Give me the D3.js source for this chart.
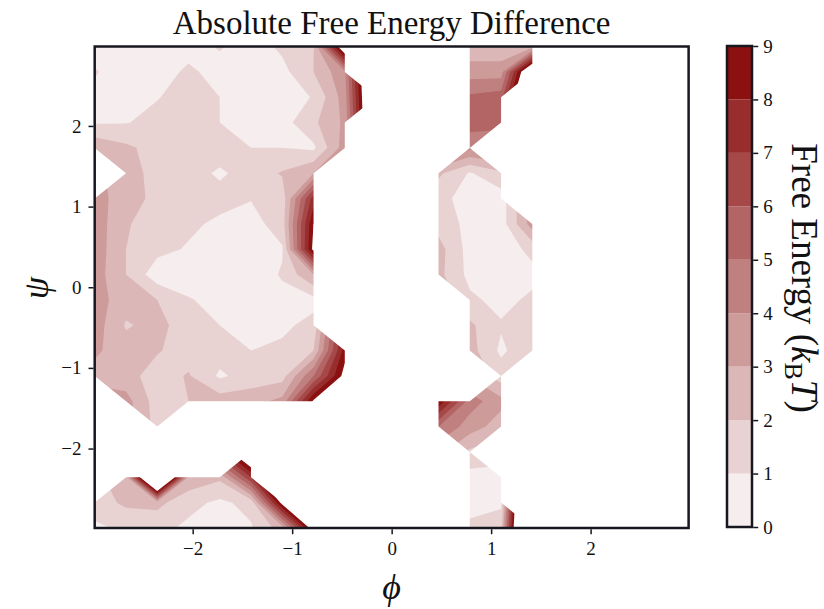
<!DOCTYPE html>
<html>
<head>
<meta charset="utf-8">
<script src="https://cdn.jsdelivr.net/npm/d3@7"></script>
<style>
  body { margin: 0; background: #fff; }
  text { font-family: "Liberation Serif", "DejaVu Serif", serif; fill: #111; }
</style>
</head>
<body>
<svg id="chart" width="824" height="609"></svg>
<script>
// Bin centres of the 20x20 histogram (radians)
const phi = [-2.985, -2.670, -2.356, -2.042, -1.728, -1.414, -1.100, -0.785, -0.471, -0.157,
              0.157,  0.471,  0.785,  1.100,  1.414,  1.728,  2.042,  2.356,  2.670,  2.985];
// psi rows listed from top (high psi) to bottom
const psi = [2.985, 2.670, 2.356, 2.042, 1.728, 1.414, 1.100, 0.785, 0.471, 0.157,
            -0.157, -0.471, -0.785, -1.100, -1.414, -1.728, -2.042, -2.356, -2.670, -2.985];

const N = null; // empty bin
// free energy difference (kBT), one row per psi value, one column per phi value
const freeEnergy = [
  [0.5, 0.5, 0.5, 0.6, 1.1, 0.5, 1.2, 1.9, 11,  N, N, N, 2.3, 2.3, 2.5, N, N, N, N, N],
  [1.1, 0.4, 0.5, 1.2, 0.6, 0.3, 0.7, 2.0, 3.8, N, N, N, 3.5, 3.5, 12,  N, N, N, N, N],
  [0.7, 0.4, 0.95,1.4, 1.0, 0.5, 0.6, 1.05,3.5, 13.5, N, N, 5.2, 5.5, N, N, N, N, N, N],
  [0.9, 0.95,1.3, 1.5, 1.0, 0.7, 0.6, 1.8, 3.2, N, N, N, 5.5, 5.2, N,   N, N, N, N, N],
  [2.8, 2.2, 1.6, 1.6, 1.5, 1.0, 1.0, 0.8, 3.5, N, N, N, 4.2, N,   N,   N, N, N, N, N],
  [N,   2.5, 1.6, 1.4, 0.85,1.4, 2.1, 3.0, N,   N, N, 2.2, 0.9, 1.8, N,   N, N, N, N, N],
  [3.4, 2.5, 1.7, 1.4, 1.35,1.05,1.4, 7.5, N,   N, N, 1.3, 0.6, 0.5, N,   N, N, N, N, N],
  [3.6, 2.1, 1.5, 1.2, 0.8, 0.6, 1.5, 9.0, N,   N, N, 1.6, 0.7, 0.5, 3.5, N, N, N, N, N],
  [3.6, 2.0, 1.3, 0.9, 0.5, 0.4, 0.9, 9.4, N,   N, N, 2.4, 0.6, 0.4, 1.3, N, N, N, N, N],
  [3.5, 2.0, 0.4, 0.3, 0.3, 0.4, 1.1, 3.0, N,   N, N, 2.3, 0.7, 0.4, 0.7, N, N, N, N, N],
  [3.5, 2.4, 2.0, 1.1, 0.6, 0.5, 0.7, 0.7, N,   N, N, N,   1.2, 0.7, 1.2, N, N, N, N, N],
  [3.5, 1.9, 2.3, 1.5, 1.0, 0.6, 0.8, 1.3, N,   N, N, N,   2.2, 1.1, 1.5, N, N, N, N, N],
  [3.2, 2.4, 2.1, 1.5, 1.4, 1.0, 1.2, 2.0, 8.5, N, N, N,   2.4, 0.8, 1.8, N, N, N, N, N],
  [2.6, 2.4, 1.5, 2.1, 0.85,1.4, 1.6, 5.0, 9.5, N, N, N,   N,   1.5, N,   N, N, N, N, N],
  [N,   3.4, 1.5, 2.0, 2.5, 2.6, 3.3, 9.2, N,   N, N, 8.8, 4.5, 3.3, N,   N, N, N, N, N],
  [N,   N,   1.6, N,   N,   N,   N,   N,   N,   N, N, 5.0, 3.5, 2.5, N,   N, N, N, N, N],
  [N,   N,   N,   N,   N,   12,  N,   N,   N,   N, N, N,   1.8, N,   N,   N, N, N, N, N],
  [N,   2.5, 17,  2.8, 2.2, 7.0, N,   N,   N,   N, N, N,   0.6, 0.7, N,   N, N, N, N, N],
  [1.5, 2.2, 2.3, 1.3, 0.8, 1.3, 9.5, N,   N,   N, N, N,   0.5, 0.8, N,   N, N, N, N, N],
  [0.8, 1.2, 1.3, 0.8, 0.6, 0.9, 2.5, 10,  N,   N, N, N,   1.3, 1.6, 20,  N, N, N, N, N]
];

const levels = [0, 1, 2, 3, 4, 5, 6, 7, 8, 9];
const xTicks = [-2, -1, 0, 1, 2];
const yTicks = [-2, -1, 0, 1, 2];
const tickText = d => (d < 0 ? "\u2212" + Math.abs(d) : String(d));

const svg = d3.select("#chart");
const nr = freeEnergy.length, nc = freeEnergy[0].length;

const x = d3.scaleLinear().domain([phi[0], phi[nc - 1]]).range([94.7, 688.6]);
const y = d3.scaleLinear().domain([psi[nr - 1], psi[0]]).range([528, 46.5]);

const bandColor = d3.interpolateRgb("#f6eeee", "#8b1111");
const colors = d3.range(9).map(k => bandColor(k / 8));

const valid = (r, c) => r >= 0 && r < nr && c >= 0 && c < nc && freeEnergy[r][c] !== null;

// empty bins get a planar guess so that the cut triangles interpolate like matplotlib
function fillGrid() {
  const out = [];
  for (let r = 0; r < nr; r++) {
    for (let c = 0; c < nc; c++) {
      if (valid(r, c)) { out.push(freeEnergy[r][c]); continue; }
      const est = [];
      for (const dr of [-1, 1]) for (const dc of [-1, 1]) {
        if (valid(r + dr, c) && valid(r, c + dc) && valid(r + dr, c + dc)) {
          est.push(freeEnergy[r + dr][c] + freeEnergy[r][c + dc] - freeEnergy[r + dr][c + dc]);
        }
      }
      if (!est.length) {
        [[-1, 0], [1, 0], [0, -1], [0, 1]].forEach(([dr, dc]) => {
          if (valid(r + dr, c + dc)) est.push(freeEnergy[r + dr][c + dc]);
        });
      }
      out.push(est.length ? Math.max(0.05, d3.mean(est)) : 0);
    }
  }
  return out;
}

const dPhi = (phi[nc - 1] - phi[0]) / (nc - 1);
const dPsi = (psi[0] - psi[nr - 1]) / (nr - 1);
const proj = d3.geoTransform({
  point(px, py) {
    this.stream.point(x(phi[0] + (px - 0.5) * dPhi), y(psi[0] - (py - 0.5) * dPsi));
  }
});
const path = d3.geoPath(proj);

// region covered by data: full quads plus triangles with one empty corner
let maskD = "";
for (let r = 0; r < nr - 1; r++) {
  for (let c = 0; c < nc - 1; c++) {
    const pts = [[r, c], [r, c + 1], [r + 1, c + 1], [r + 1, c]].filter(([rr, cc]) => valid(rr, cc));
    if (pts.length >= 3) {
      maskD += "M" + pts.map(([rr, cc]) => x(phi[cc]).toFixed(2) + "," + y(psi[rr]).toFixed(2)).join("L") + "Z";
    }
  }
}
svg.append("defs").append("mask")
  .attr("id", "dataMask")
  .attr("maskUnits", "userSpaceOnUse")
  .attr("x", 0).attr("y", 0).attr("width", 824).attr("height", 609)
  .append("path").attr("d", maskD).attr("fill", "#fff");

const contours = d3.contours().size([nc, nr]).thresholds(levels)(fillGrid());

svg.append("g")
  .attr("mask", "url(#dataMask)")
  .selectAll("path")
  .data(contours)
  .join("path")
  .attr("d", path)
  .attr("fill", d => (d.value >= 9 ? "#fff" : colors[d.value]));

// axes frame
const frameColor = "#17171f";
svg.append("rect")
  .attr("x", x.range()[0]).attr("y", y.range()[1])
  .attr("width", x.range()[1] - x.range()[0])
  .attr("height", y.range()[0] - y.range()[1])
  .attr("fill", "none").attr("stroke", frameColor).attr("stroke-width", 2.5);

const xAxis = svg.append("g").attr("transform", `translate(0,${y.range()[0] + 1.2})`)
  .call(d3.axisBottom(x).tickValues(xTicks).tickSize(5).tickPadding(7).tickFormat(tickText));
const yAxis = svg.append("g").attr("transform", `translate(${x.range()[0] - 1.2},0)`)
  .call(d3.axisLeft(y).tickValues(yTicks).tickSize(5).tickPadding(7).tickFormat(tickText));
[xAxis, yAxis].forEach(g => {
  g.select(".domain").remove();
  g.selectAll(".tick line").attr("stroke", frameColor).attr("stroke-width", 1.5);
  g.selectAll(".tick text").style("font-size", "19px").style("font-family", "Liberation Serif").attr("fill", "#111");
});

// title and axis labels
svg.append("text")
  .attr("x", 391.6).attr("y", 34)
  .attr("text-anchor", "middle")
  .style("font-size", "33px")
  .text("Absolute Free Energy Difference");

svg.append("text")
  .attr("x", 391.6).attr("y", 599)
  .attr("text-anchor", "middle")
  .style("font-size", "36px").style("font-style", "italic")
  .text("\u03d5");

svg.append("text")
  .attr("transform", "translate(48,288) rotate(-90)")
  .attr("text-anchor", "middle")
  .style("font-size", "36px").style("font-style", "italic")
  .text("\u03c8");

// colour bar
const cbX = 727, cbW = 25;
const cb = d3.scaleLinear().domain([0, 9]).range([527, 46]);
const cbG = svg.append("g");
cbG.selectAll("rect.band")
  .data(d3.range(9))
  .join("rect")
  .attr("class", "band")
  .attr("x", cbX).attr("width", cbW)
  .attr("y", k => cb(k + 1)).attr("height", k => cb(k) - cb(k + 1))
  .attr("fill", k => colors[k]);
cbG.append("rect")
  .attr("x", cbX).attr("y", cb(9)).attr("width", cbW).attr("height", cb(0) - cb(9))
  .attr("fill", "none").attr("stroke", frameColor).attr("stroke-width", 2.5);
const cbAxis = svg.append("g").attr("transform", `translate(${cbX + cbW + 1.2},0)`)
  .call(d3.axisRight(cb).tickValues(levels).tickSize(5).tickPadding(5));
cbAxis.select(".domain").remove();
cbAxis.selectAll(".tick line").attr("stroke", frameColor).attr("stroke-width", 1.5);
cbAxis.selectAll(".tick text").style("font-size", "19px").style("font-family", "Liberation Serif").attr("fill", "#111");

const cbLabel = svg.append("text")
  .attr("transform", "translate(792,278) rotate(90)")
  .attr("text-anchor", "middle")
  .style("font-size", "37px");
cbLabel.append("tspan").text("Free Energy (");
cbLabel.append("tspan").style("font-style", "italic").text("k");
cbLabel.append("tspan").attr("dy", 7).style("font-size", "26px").text("B");
cbLabel.append("tspan").attr("dy", -7).style("font-style", "italic").text("T");
cbLabel.append("tspan").text(")");
</script>
</body>
</html>
